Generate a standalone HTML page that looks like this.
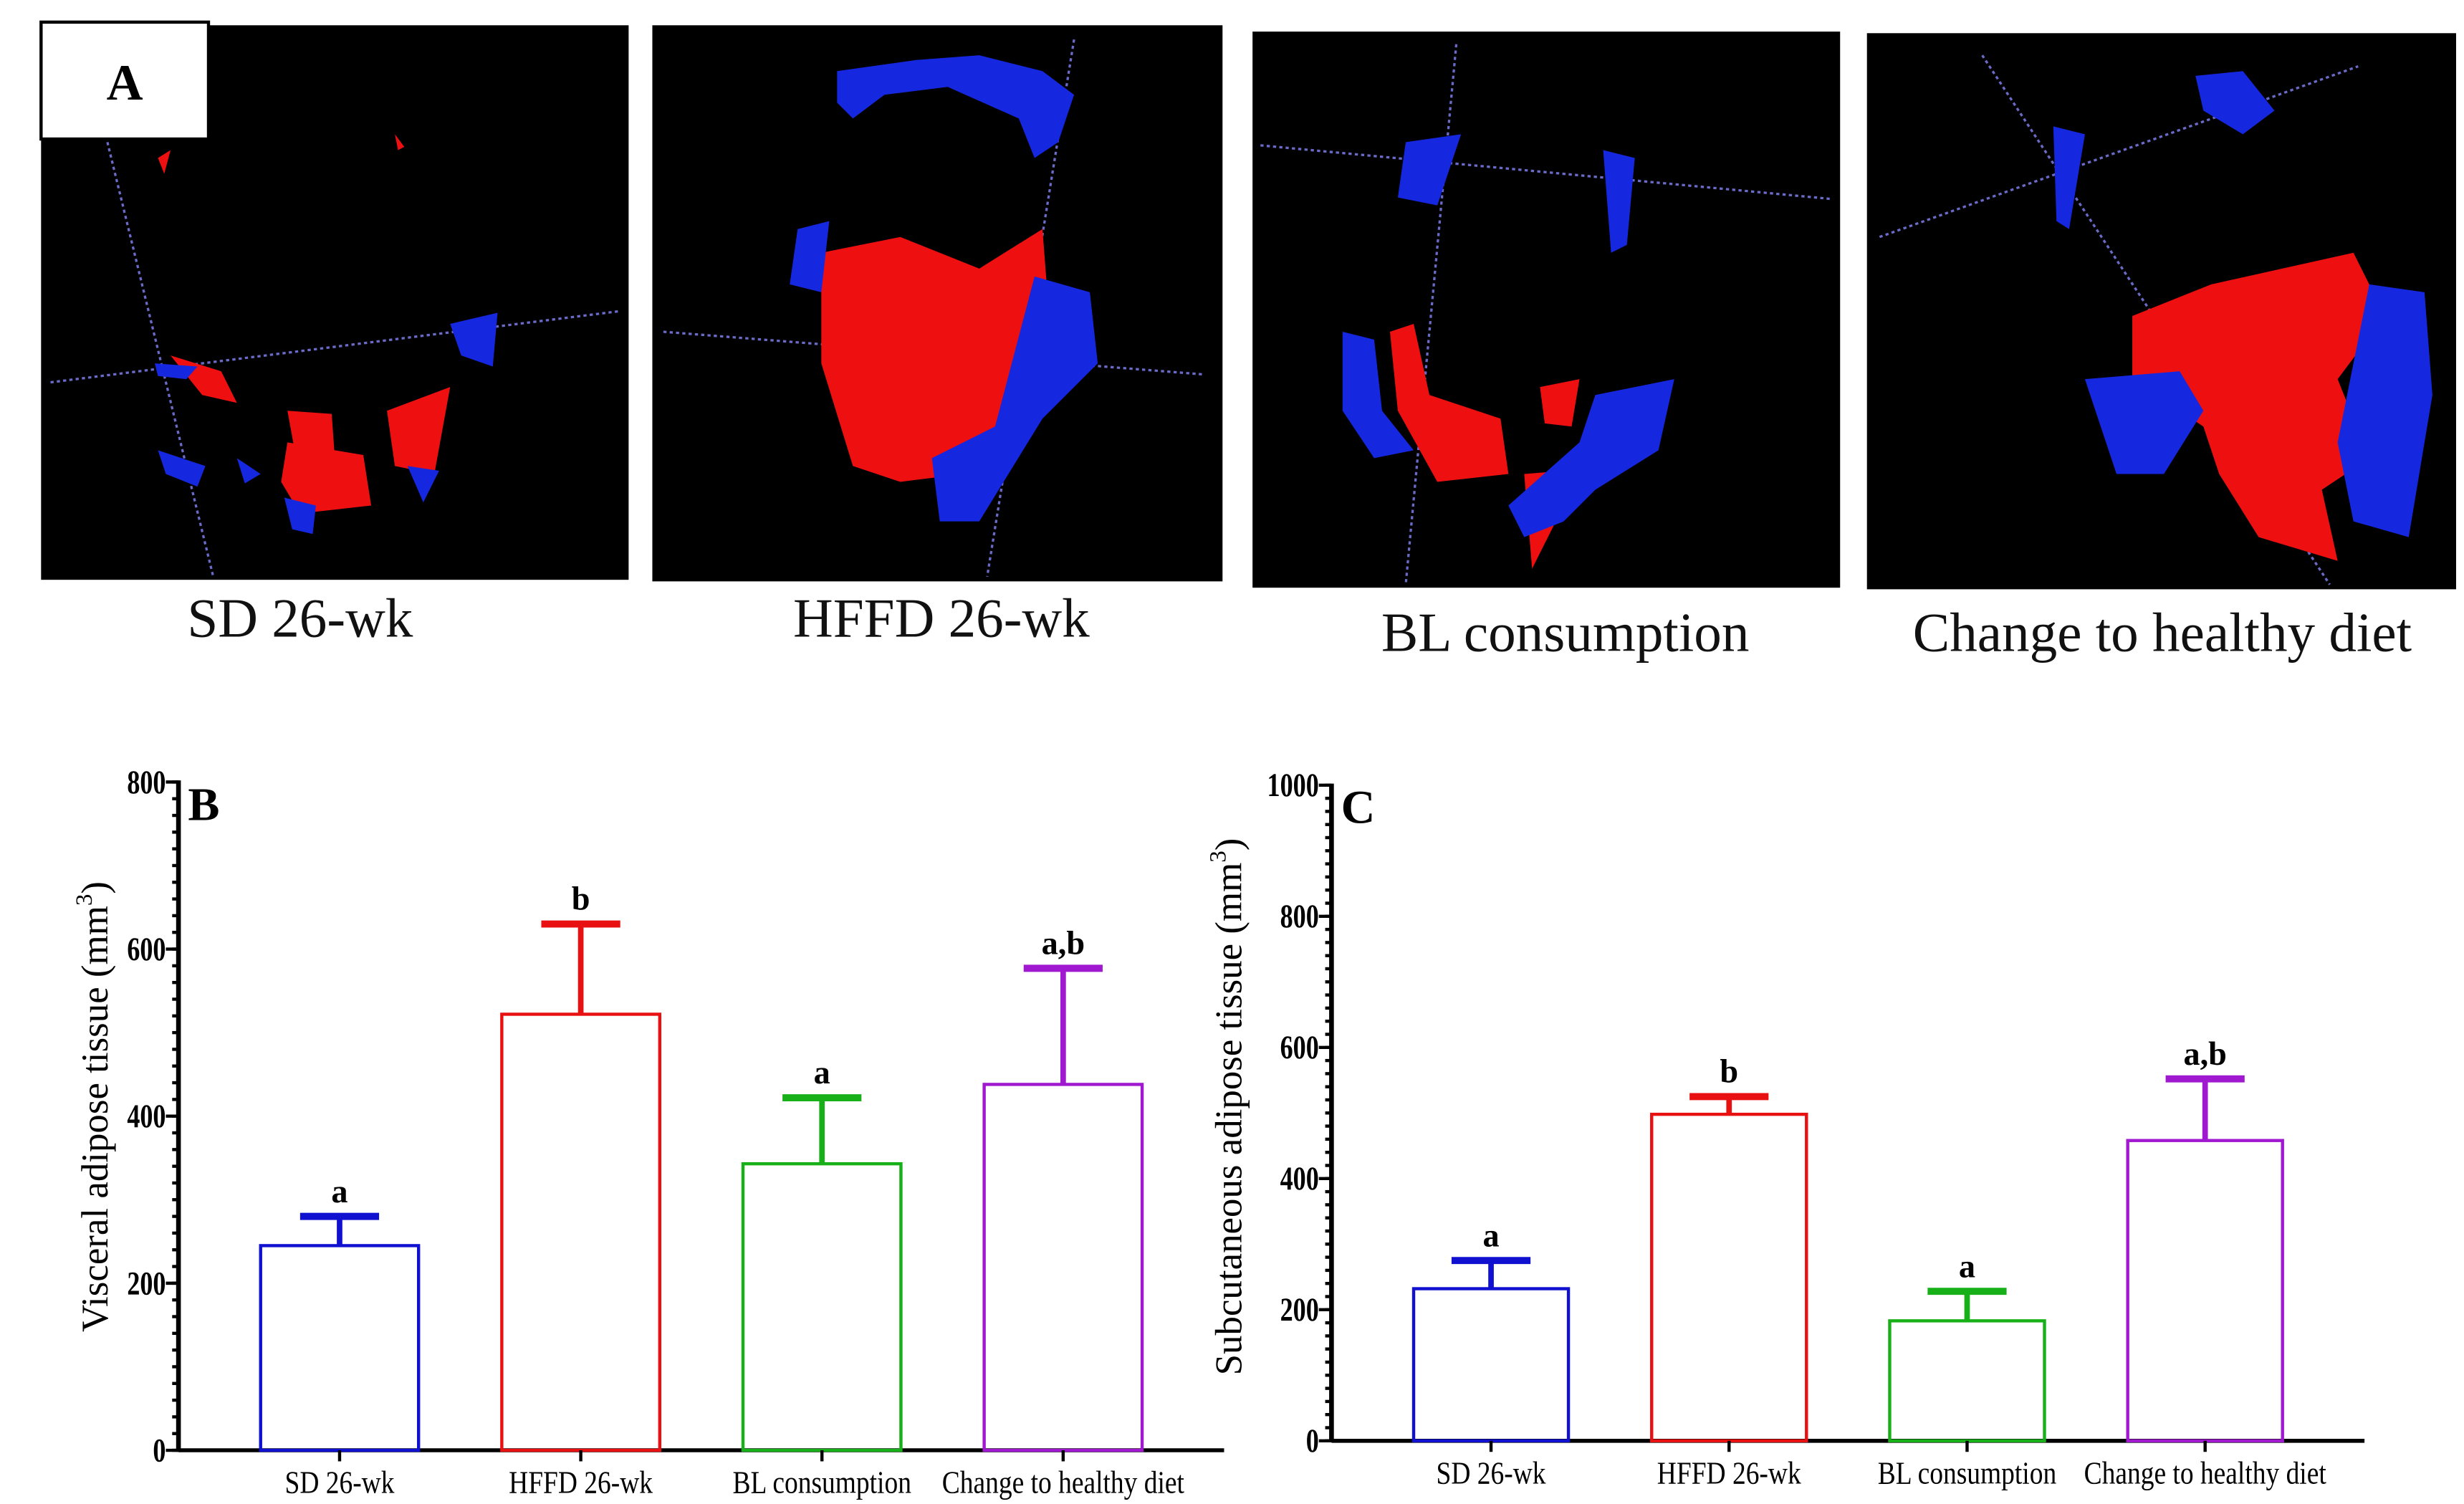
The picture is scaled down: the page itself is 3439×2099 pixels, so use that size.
<!DOCTYPE html>
<html><head><meta charset="utf-8"><style>
html,body{margin:0;padding:0;background:#fff;}
svg{display:block;}
text{font-family:"Liberation Serif",serif;}
</style></head><body>
<svg id="fig" width="3439" height="2099" viewBox="0 0 1560 952" preserveAspectRatio="none" xmlns="http://www.w3.org/2000/svg">
<g id="panelA">
  <rect x="26" y="16" width="372" height="351" fill="#000"/>
  <rect x="413" y="16" width="361" height="352" fill="#000"/>
  <rect x="793" y="20" width="372" height="352" fill="#000"/>
  <rect x="1182" y="21" width="373" height="352" fill="#000"/>
  <g stroke="#6a6ac8" stroke-width="1.5" stroke-dasharray="2,2" fill="none">
    <line x1="68" y1="90" x2="135" y2="365"/><line x1="32" y1="242" x2="392" y2="197"/>
    <line x1="680" y1="25" x2="625" y2="365"/><line x1="420" y1="210" x2="762" y2="237"/>
    <line x1="922" y1="28" x2="890" y2="370"/><line x1="798" y1="92" x2="1160" y2="126"/>
    <line x1="1255" y1="35" x2="1475" y2="370"/><line x1="1190" y1="150" x2="1493" y2="42"/>
  </g>
  <g fill="#ee1010">
    <path d="M100 100 L108 95 L104 110Z"/><path d="M250 85 L256 93 L252 95Z"/>
    <path d="M108 225 L140 235 L150 255 L128 250Z"/><path d="M182 260 L210 262 L212 290 L186 282Z"/>
    <path d="M245 260 L285 245 L275 300 L250 295Z"/><path d="M182 280 L230 288 L235 320 L190 325 L178 305Z"/>
    <path d="M520 160 L570 150 L620 170 L660 145 L665 210 L640 260 L610 300 L570 305 L540 295 L520 230Z"/>
    <path d="M880 210 L895 205 L905 250 L950 265 L955 300 L910 305 L885 260Z"/><path d="M975 245 L1000 240 L995 270 L978 268Z"/>
    <path d="M965 300 L990 298 L985 330 L970 360Z"/>
    <path d="M1350 200 L1400 180 L1490 160 L1510 200 L1480 240 L1500 290 L1470 310 L1480 355 L1430 340 L1405 300 L1395 270 L1350 240Z"/>
  </g>
  <g fill="#1528e0">
    <path d="M98 230 L125 232 L118 240 L100 238Z"/><path d="M285 205 L315 198 L312 232 L292 225Z"/>
    <path d="M100 285 L130 295 L125 308 L105 300Z"/><path d="M150 290 L165 300 L155 306Z"/>
    <path d="M258 295 L278 298 L268 318Z"/><path d="M180 315 L200 320 L198 338 L185 335Z"/>
    <path d="M530 45 L580 38 L620 35 L660 45 L680 60 L670 90 L655 100 L645 75 L600 55 L560 60 L540 75 L530 65Z"/>
    <path d="M505 145 L525 140 L520 185 L500 180Z"/><path d="M655 175 L690 185 L695 230 L660 265 L620 330 L595 330 L590 290 L630 270Z"/>
    <path d="M890 90 L925 85 L910 130 L885 125Z"/><path d="M1015 95 L1035 100 L1030 155 L1020 160Z"/>
    <path d="M850 210 L870 215 L875 260 L895 285 L870 290 L850 260Z"/><path d="M1010 250 L1060 240 L1050 285 L1010 310 L990 330 L965 340 L955 320 L1000 280Z"/>
    <path d="M1390 48 L1420 45 L1440 70 L1420 85 L1395 70Z"/><path d="M1300 80 L1320 85 L1310 145 L1302 140Z"/>
    <path d="M1320 240 L1380 235 L1395 260 L1370 300 L1340 300Z"/><path d="M1500 180 L1535 185 L1540 250 L1525 340 L1490 330 L1480 280Z"/>
  </g>
  <rect x="26" y="14" width="106" height="74" fill="#fff" stroke="#000" stroke-width="2"/>
  <text x="79" y="63" font-size="32" font-weight="bold" text-anchor="middle">A</text>
  <g font-size="35" text-anchor="middle" fill="#111">
    <text x="190" y="403">SD 26-wk</text>
    <text x="596" y="403">HFFD 26-wk</text>
    <text x="991" y="412">BL consumption</text>
    <text x="1369" y="412">Change to healthy diet</text>
  </g>
</g>
<g id="chartB"></g>
<g id="chartC"></g>
</svg>
<script>
const categories = ["SD 26-wk","HFFD 26-wk","BL consumption","Change to healthy diet"];
const colors = ["#1010d0","#e81010","#18b018","#a018d0"];
const bMeans = [245, 522, 343, 438];
const bErr = [35, 108, 79, 139];
const bLetters = ["a","b","a","a,b"];
const bTicks = [0,200,400,600,800];
const cMeans = [232, 498, 183, 458];
const cErr = [43, 27, 45, 94];
const cLetters = ["a","b","a","a,b"];
const cTicks = [0,200,400,600,800,1000];
const NS = "http://www.w3.org/2000/svg";
function mk(parent, tag, attrs, txt){
  const e = document.createElementNS(NS, tag);
  for (const k in attrs) e.setAttribute(k, attrs[k]);
  if (txt !== undefined) e.textContent = txt;
  parent.appendChild(e);
  return e;
}
function drawChart(gid, cfg){
  const g = document.getElementById(gid);
  const y = v => cfg.y0 - (v - 0) / cfg.max * (cfg.y0 - cfg.yTop);
  const x = i => cfg.xStart + i * cfg.step;
  for (let v = 0; v <= cfg.max; v += cfg.minor){
    const t = mk(g,'line',{x1:cfg.ax-4,x2:cfg.ax,y1:y(v),y2:y(v),stroke:'#000','stroke-width':2});
    
    
  }
  cfg.ticks.forEach(v=>{
    const t = mk(g,'line',{x1:cfg.ax-8,x2:cfg.ax,y1:y(v),y2:y(v),stroke:'#000','stroke-width':2});
    
    
    const l = mk(g,'text',{x:cfg.ax-8,y:y(v)+7,'font-size':21,'font-weight':'bold','text-anchor':'end',transform:`translate(${cfg.ax-8},0) scale(0.78,1) translate(${-(cfg.ax-8)},0)`}, v);
    
    
  });
  const ya = mk(g,'line',{x1:cfg.ax,x2:cfg.ax,y1:cfg.yTop-1,y2:cfg.y0+1,stroke:'#000','stroke-width':3});
  
  
  const xa = mk(g,'line',{x1:cfg.ax,x2:cfg.xEnd,y1:cfg.y0,y2:cfg.y0,stroke:'#000','stroke-width':2.5});
  
  
  const pl = mk(g,'text',{x:cfg.ax+6,y:cfg.yTop+24,'font-size':30,'font-weight':'bold'}, cfg.label);
  
  
  const yt = mk(g,'text',{x:0,y:0,'font-size':24,'text-anchor':'middle',transform:`translate(${cfg.titleX},${(cfg.yTop+cfg.y0)/2 + cfg.titleDy}) rotate(-90)`});
  
  
  yt.textContent = cfg.title + " (mm";
  mk(yt,'tspan',{dy:-10,'font-size':15},"3");
  mk(yt,'tspan',{dy:10},")");
  cfg.means.forEach((m,i)=>{
    const cx = x(i);
    const bar = mk(g,'rect',{x:cx-cfg.bw/2,y:y(m),width:cfg.bw,height:cfg.y0-y(m),fill:'none',stroke:colors[i],'stroke-width':2});
    
    
    const top = m + cfg.err[i];
    const st = mk(g,'line',{x1:cx,x2:cx,y1:y(m),y2:y(top),stroke:colors[i],'stroke-width':3.5});
    
    
    const cap = mk(g,'line',{x1:cx-25,x2:cx+25,y1:y(top),y2:y(top),stroke:colors[i],'stroke-width':4.5});
    
    
    const lt = mk(g,'text',{x:cx,y:y(top)-9,'font-size':21,'font-weight':'bold','text-anchor':'middle'}, cfg.letters[i]);
    
    
    const tk = mk(g,'line',{x1:cx,x2:cx,y1:cfg.y0,y2:cfg.y0+7,stroke:'#000','stroke-width':2});
    
    
    const cl = mk(g,'text',{x:0,y:0,'font-size':20,'text-anchor':'middle',transform:`translate(${cx},${cfg.y0+27}) scale(0.85,1)`}, categories[i]);
    
    
  });
}
drawChart('chartB',{y0:918,yTop:495,max:800,minor:20,ticks:bTicks,ax:113,xEnd:775,xStart:215,step:152.7,bw:100,
  means:bMeans,err:bErr,letters:bLetters,label:'B',title:'Visceral adipose tissue',titleX:68,titleDy:-6});
drawChart('chartC',{y0:912,yTop:497,max:1000,minor:20,ticks:cTicks,ax:843,xEnd:1497,xStart:944,step:150.7,bw:98,
  means:cMeans,err:cErr,letters:cLetters,label:'C',title:'Subcutaneous adipose tissue',titleX:786,titleDy:-4});
</script>
</body></html>
